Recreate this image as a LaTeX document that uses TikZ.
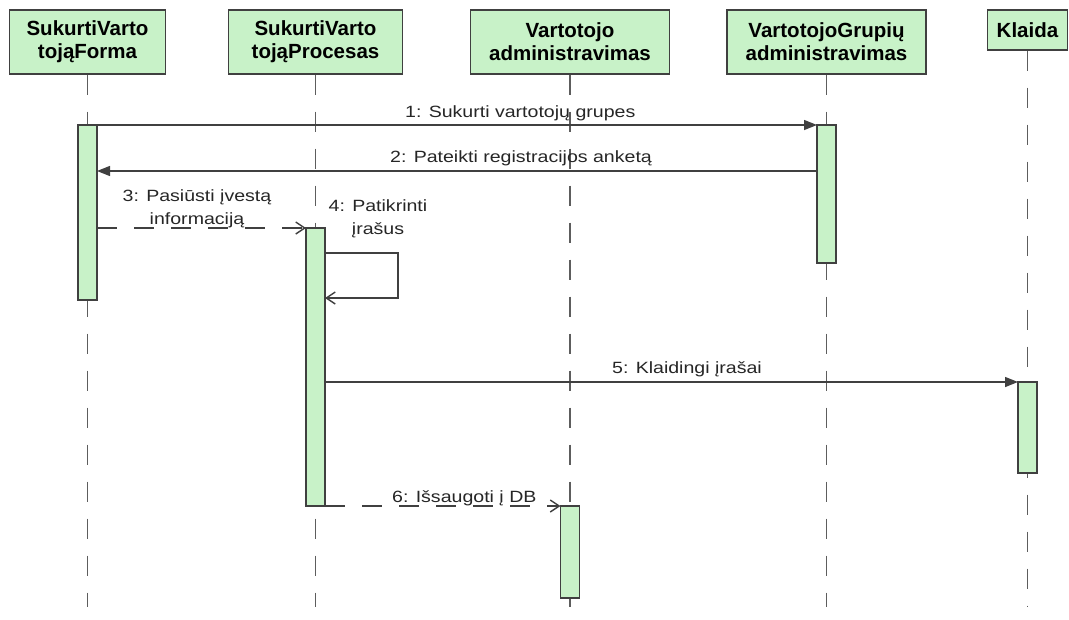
\documentclass[tikz,border=0pt]{standalone}
\usepackage{fontspec}
\usetikzlibrary{arrows.meta}

\newfontfamily\headfont{Liberation Sans}
\newfontfamily\msgfont[FakeStretch=1.2]{Liberation Sans}

\definecolor{actgreen}{RGB}{200,242,200}
\definecolor{edge}{RGB}{64,64,64}

\tikzset{
  obj/.style={draw=edge, line width=1.4pt, fill=actgreen, minimum height=64pt,
    align=center, inner sep=0pt, font=\headfont\bfseries\fontsize{20.5}{23}\selectfont},
  act/.style={draw=edge, line width=1.2pt, fill=actgreen, minimum width=19pt,
    inner sep=0pt, outer sep=0pt},
  life/.style={draw=edge!85, line width=1.4pt, dash pattern=on 20pt off 17pt},
  call/.style={draw=edge, line width=1.4pt, -{Triangle[length=13pt,width=10pt]}},
  reply/.style={draw=edge, line width=1.4pt, dash pattern=on 20pt off 17pt,
    -{Straight Barb[length=9pt,width=12pt]}},
  selfcall/.style={draw=edge, line width=1.4pt, -{Straight Barb[length=9pt,width=12pt]}},
  lbl/.style={inner sep=0pt, align=center, text=black!85,
    font=\msgfont\fontsize{16.3}{23}\selectfont},
}

\begin{document}
\begin{tikzpicture}[x=1pt, y=-1pt]
        \useasboundingbox[fill=white] (0,0) rectangle (1069,619);

        % Objects
        \node[obj, minimum width=156pt] (forma) at (87.5,42) {SukurtiVarto\\tojąForma};
        \node[obj, minimum width=174pt] (procesas) at (315.5,42) {SukurtiVarto\\tojąProcesas};
        \node[obj, minimum width=199pt] (vartadm) at (570,42) {Vartotojo\\administravimas};
        \node[obj, minimum width=199pt] (grupadm) at (826.5,42) {VartotojoGrupių\\administravimas};
        \node[obj, minimum width=80pt, minimum height=40pt] (klaida) at (1027.5,30) {Klaida};

        \coordinate (bottom) at (0,607);
        \coordinate (m2) at (0,171);
        \coordinate (s1) at (0,253);
        \coordinate (s2) at (0,298);

        % Lifelines
        \draw[life] (forma.south) -- (forma.south |- bottom);
        \draw[life] (procesas.south) -- (procesas.south |- bottom);
        \draw[life] (vartadm.south) -- (vartadm.south |- bottom);
        \draw[life] (grupadm.south) -- (grupadm.south |- bottom);
        \draw[life] (klaida.south) -- (klaida.south |- bottom);

        % Activations
        \node[act, minimum height=175pt] (forma1) at (87.5,212.5) {};
        \node[act, minimum height=278pt] (procesas1) at (315.5,367) {};
        \node[act, minimum height=92pt] (vartadm1) at (570,552) {};
        \node[act, minimum height=138pt] (grupadm1) at (826.5,194) {};
        \node[act, minimum height=91pt] (klaida1) at (1027.5,427.5) {};

        % Messages
        \draw[call] (forma1.north east) -- (grupadm1.north west);
        \node[lbl, anchor=base west] (l1) at (405,117) {1: Sukurti vartotojų grupes};

        \draw[call] (grupadm1.west |- m2) -- (forma1.east |- m2);
        \node[lbl, anchor=base west] (l2) at (390,162) {2: Pateikti registracijos anketą};

        \draw[reply] (forma1.east |- procesas1.north) -- (procesas1.north west);
        \node[lbl, anchor=north] (l3) at (197,189) {3: Pasiūsti įvestą\\informaciją};

        \draw[selfcall] (procesas1.east |- s1) -- ++(73,0) |- (procesas1.east |- s2);
        \node[lbl, anchor=north] (l4) at (378,199.3) {4: Patikrinti\\įrašus};

        \draw[call] (procesas1.east |- klaida1.north) -- (klaida1.north west);
        \node[lbl, anchor=base west] (l5) at (612,373) {5: Klaidingi įrašai};

        \draw[reply] (procesas1.south east) -- (vartadm1.north west);
        \node[lbl, anchor=base west] (l6) at (392,502) {6: Išsaugoti į DB};

\end{tikzpicture}
\end{document}
